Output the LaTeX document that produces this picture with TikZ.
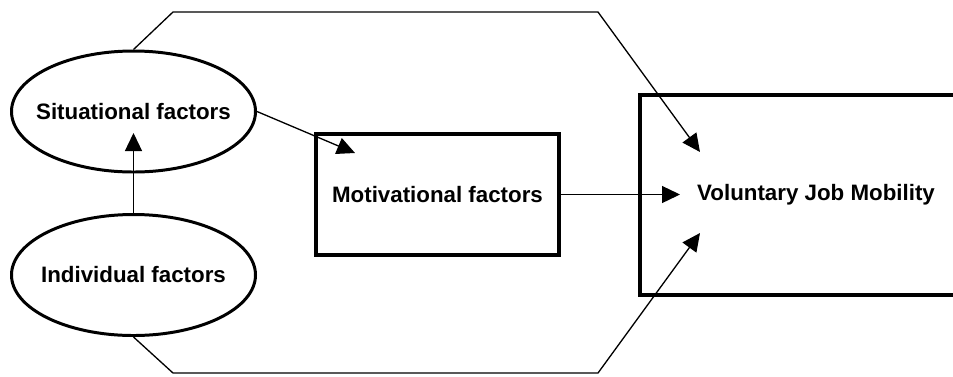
\documentclass[tikz,border=0pt]{standalone}
\usepackage{fontspec}
\setmainfont{Liberation Sans}
\usetikzlibrary{arrows.meta, shapes.geometric}

\tikzset{
  factor/.style = {draw, ellipse, line width = 1.7pt, minimum width = 4.88cm,
    minimum height = 2.42cm, inner xsep = -0.8cm, inner ysep = 0pt},
  block/.style = {draw, rectangle, line width = 2.3pt, inner sep = 0pt},
  link/.style = {line width = 0.75pt, -{Triangle[length = 0.36cm, width = 0.34cm]}}
}

\begin{document}
\begin{tikzpicture}[font = \fontsize{12.7}{15}\selectfont\bfseries]
    \useasboundingbox (0, 0) rectangle (19.06, 7.52);
    \clip (0, 0) rectangle (19.06, 7.52);

    \node [factor] (sit) at (2.67, 5.29) {Situational factors};
    \node [factor] (ind) at (2.67, 2.02) {Individual factors};
    \node [block, minimum width = 4.86cm, minimum height = 2.42cm] (mot) at (8.75, 3.63) {Motivational factors};
    \node [block, minimum width = 7.04cm, minimum height = 4cm] (vjm) at (16.32, 3.62) {Voluntary Job Mobility};

    \coordinate (sitin) at (2.67, 4.86);
    \coordinate (motin) at (7.1, 4.46);
    \coordinate (vjmtop) at (14.0, 4.48);
    \coordinate (vjmmid) at (13.6, 3.63);
    \coordinate (vjmbot) at (14.0, 2.86);

    \draw [link] (ind) -- (sitin);
    \draw [link] (sit.east) -- (motin);
    \draw [link] (mot) -- (vjmmid);
    \draw [link] (sit.north) -- (3.46, 7.28) -- (11.96, 7.28) -- (vjmtop);
    \draw [link] (ind.south) -- (3.46, 0.06) -- (11.96, 0.06) -- (vjmbot);
\end{tikzpicture}
\end{document}
